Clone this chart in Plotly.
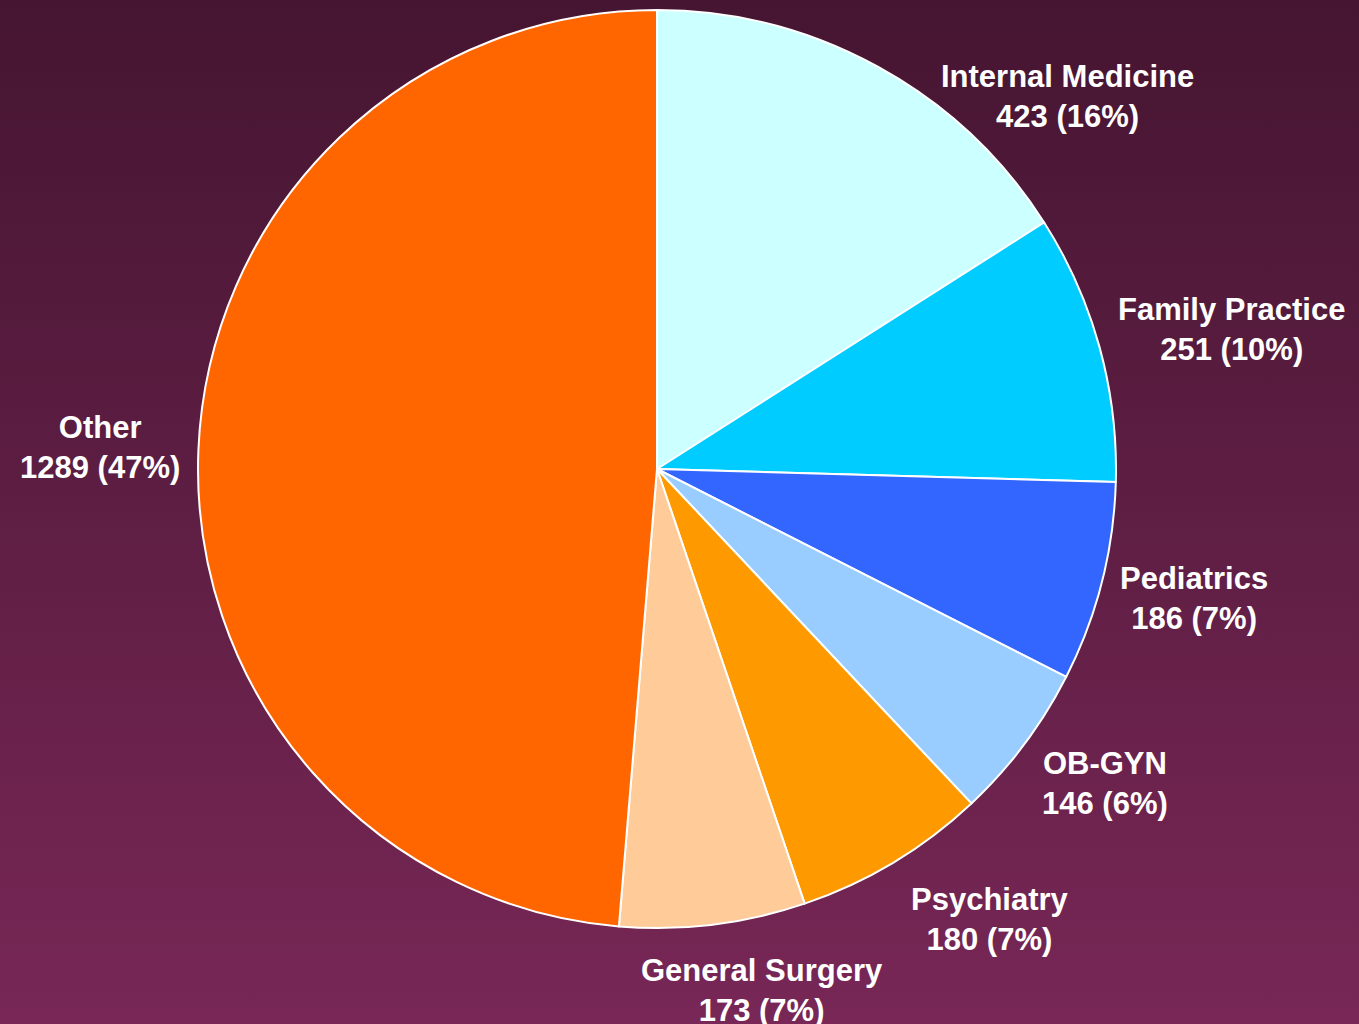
import math
import plotly.graph_objects as go

specialties = ["Internal Medicine", "Family Practice", "Pediatrics", "OB-GYN",
               "Psychiatry", "General Surgery", "Other"]
counts = [423, 251, 186, 146, 180, 173, 1289]
pct_labels = ["16%", "10%", "7%", "6%", "7%", "7%", "47%"]
colors = ["#CCFFFF", "#00CCFF", "#3366FF", "#99CCFF", "#FF9900", "#FFCC99", "#FF6600"]

W, H = 1359, 1024
cx, cy, r = 657, 469, 459
FS = 31          # label font size
LH = 41          # label line height
GX = 18          # horizontal gap between slice edge point and label box
GY = 25          # vertical gap term
KX = 2.9         # horizontal offset saturation factor
GAP = 16         # clearance from pie when a label is pushed down
TOP_PAD = 55     # minimal top position of labels

# Arial/Liberation Sans Bold advance widths (per 1000 em) for width estimates
AW = {" ": 278, "(": 333, ")": 333, "%": 889, "-": 333,
      "A": 722, "B": 722, "C": 722, "D": 722, "E": 667, "F": 611, "G": 778,
      "I": 278, "M": 833, "N": 722, "O": 778, "P": 667, "S": 667, "Y": 667,
      "a": 556, "c": 556, "d": 611, "e": 556, "g": 611, "h": 611, "i": 278,
      "l": 278, "m": 889, "n": 611, "o": 611, "p": 611, "r": 389, "s": 556,
      "t": 333, "u": 611, "y": 556}


def text_w(s):
    return sum(AW.get(ch, 556) for ch in s) / 1000 * FS


fig = go.Figure()

# gradient background
fig.add_trace(go.Scatter(
    x=[0, 1, 1, 0, 0], y=[0, 0, 1, 1, 0], mode="lines", fill="toself",
    line=dict(width=0),
    fillgradient=dict(type="vertical",
                      colorscale=[[0, "#782756"], [1, "#451531"]]),
    hoverinfo="skip", showlegend=False,
))

fig.add_trace(go.Pie(
    labels=specialties, values=counts, textinfo="none",
    sort=False, direction="clockwise", rotation=0,
    marker=dict(colors=colors, line=dict(color="white", width=2)),
    domain=dict(x=[(cx - r) / W, (cx + r) / W], y=[(H - cy - r) / H, (H - cy + r) / H]),
    hoverinfo="label+value", showlegend=False,
))

# labels placed outside each slice, next to the edge point at its mid-angle
total = sum(counts)
cum = 0.0
annotations = []
for name, val, pct in zip(specialties, counts, pct_labels):
    frac = val / total
    th = 2 * math.pi * (cum + frac / 2)
    cum += frac
    lines = [name, f"{val} ({pct})"]
    widths = [text_w(s) for s in lines]
    hw = max(widths) / 2
    hh = LH * len(lines) / 2
    s, c = math.sin(th), math.cos(th)
    px, py = cx + r * s, cy - r * c
    sign = 1 if s >= 0 else -1
    x = px + sign * (hw + GX) * min(1.0, KX * abs(s))
    y = py - (hh + GY) * c
    if y - hh < TOP_PAD:
        y = TOP_PAD + hh
        xs = []
        for j, wj in enumerate(widths):
            yb = y - hh + (j + 1) * LH
            dx = math.sqrt(max(r * r - (yb - cy) ** 2, 0))
            xs.append(dx + GAP + wj / 2)
        x = cx + max(xs) * sign
    annotations.append(dict(
        x=x / W, y=1 - y / H, xref="paper", yref="paper",
        text="<br>".join(lines), showarrow=False,
        xanchor="center", yanchor="middle", align="center",
        font=dict(family="Liberation Sans, Arial, sans-serif", size=FS,
                  color="white", weight="bold"),
    ))

fig.update_layout(
    width=W, height=H, margin=dict(l=0, r=0, t=0, b=0),
    paper_bgcolor="#5e1e44", plot_bgcolor="rgba(0,0,0,0)",
    xaxis=dict(visible=False, range=[0, 1], domain=[0, 1], fixedrange=True),
    yaxis=dict(visible=False, range=[0, 1], domain=[0, 1], fixedrange=True),
    annotations=annotations,
    showlegend=False,
)

fig.write_html("out.html", config={"displayModeBar": False},
               post_script="document.body.style.margin='0';")
